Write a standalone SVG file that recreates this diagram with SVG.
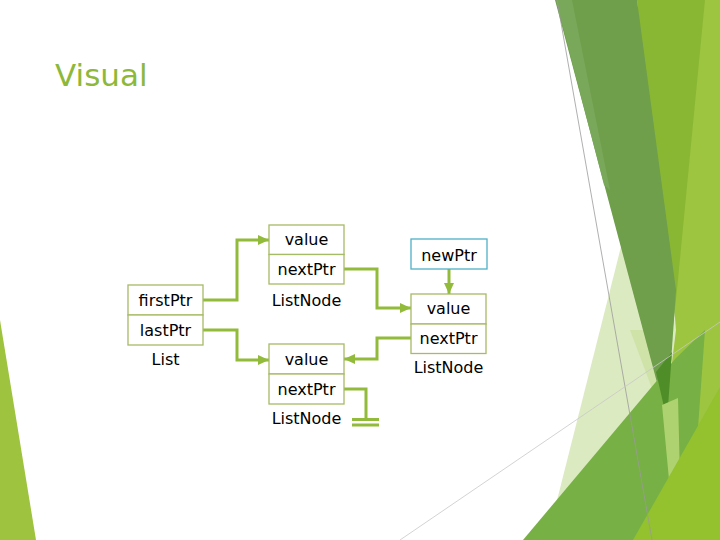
<svg xmlns="http://www.w3.org/2000/svg" width="720" height="540" viewBox="0 0 720 540">
  <style>
    .box { fill: #ffffff; stroke: #a6bb66; stroke-width: 1.3; }
    .ptrbox { fill: #ffffff; stroke: #4fb0c6; stroke-width: 1.3; }
    .t { font-family: "DejaVu Sans", "Liberation Sans", sans-serif; font-size: 16px; fill: #000000; text-anchor: middle; }
    .title { font-family: "DejaVu Sans", "Liberation Sans", sans-serif; font-size: 31px; fill: #8db83a; }
    .conn { fill: none; stroke: #92bb3b; stroke-width: 3; stroke-linejoin: miter; }
    .arrow { marker-end: url(#ah); }
  </style>
  <defs>
    <marker id="ah" markerUnits="userSpaceOnUse" markerWidth="12" markerHeight="12" refX="11" refY="5" orient="auto">
      <path d="M0,0 L11,5 L0,10 Z" fill="#92bb3b"/>
    </marker>
  </defs>

  <rect width="720" height="540" fill="#ffffff"/>

  <!-- background facets -->
  <g id="background">
    <polygon points="0,320 36,540 0,540" fill="#9dc33f"/>
    <polygon points="700,0 720,0 720,540 640,540 665,380" fill="#9dc540"/>
    <polygon points="658,100 547,540 650,540 676,330" fill="#dceac2"/>
    <polygon points="630,330 672,330 660,410" fill="#cfe3a9"/>
    <polygon points="637,0 705,0 677,290 665,400" fill="#8ab733"/>
    <polygon points="555,0 637,0 676,290 667,420" fill="#6f9f4b"/>
    <polygon points="556,0 572,0 610,190 604,185" fill="#7aa85a"/>
    <polygon points="523,540 676,358 705,330 690,540" fill="#77b044"/>
    <polygon points="656,372 672,352 667,420" fill="#4f8d28"/>
    <polygon points="662,405 678,398 680,478 670,490" fill="#afd270"/>
    <polygon points="633,540 720,387 720,540" fill="#93c22e"/>
    <line x1="557" y1="0" x2="652" y2="540" stroke="#9a9a9a" stroke-width="0.8"/>
    <line x1="400" y1="540" x2="720" y2="322" stroke="#c8c8c8" stroke-width="0.8"/>
  </g>

  <text class="title" x="55" y="86">Visual</text>

  <g id="connectors">
    <path class="conn arrow" d="M203,300 H237 V240 H269"/>
    <path class="conn arrow" d="M203,330 H237 V360 H269"/>
    <path class="conn arrow" d="M344,269 H377 V308 H411"/>
    <path class="conn arrow" d="M411,338 H377 V359 H344"/>
    <path class="conn arrow" d="M449,269 V294"/>
    <path class="conn" d="M344,389 H366 V420"/>
    <path class="conn" d="M352,419.5 H379 M352,425 H379"/>
  </g>

  <g id="list">
    <rect class="box" x="128" y="285" width="75" height="30"/>
    <rect class="box" x="128" y="315" width="75" height="30"/>
    <text class="t" x="165.5" y="305.5">firstPtr</text>
    <text class="t" x="165.5" y="335.5">lastPtr</text>
    <text class="t" x="165.5" y="365">List</text>
  </g>

  <g id="node1">
    <rect class="box" x="269" y="225" width="75" height="29.5"/>
    <rect class="box" x="269" y="254.5" width="75" height="29.5"/>
    <text class="t" x="306.5" y="245">value</text>
    <text class="t" x="306.5" y="275">nextPtr</text>
    <text class="t" x="306.5" y="306">ListNode</text>
  </g>

  <g id="node2">
    <rect class="box" x="269" y="344" width="75" height="30"/>
    <rect class="box" x="269" y="374" width="75" height="30"/>
    <text class="t" x="306.5" y="365">value</text>
    <text class="t" x="306.5" y="394.5">nextPtr</text>
    <text class="t" x="306.5" y="424">ListNode</text>
  </g>

  <g id="newptr">
    <rect class="ptrbox" x="411" y="239" width="76" height="30"/>
    <text class="t" x="449" y="260.5">newPtr</text>
  </g>

  <g id="newnode">
    <rect class="box" x="411" y="294" width="75" height="30"/>
    <rect class="box" x="411" y="324" width="75" height="29.5"/>
    <text class="t" x="448.5" y="313.5">value</text>
    <text class="t" x="448.5" y="343.5">nextPtr</text>
    <text class="t" x="448.5" y="373">ListNode</text>
  </g>
</svg>
